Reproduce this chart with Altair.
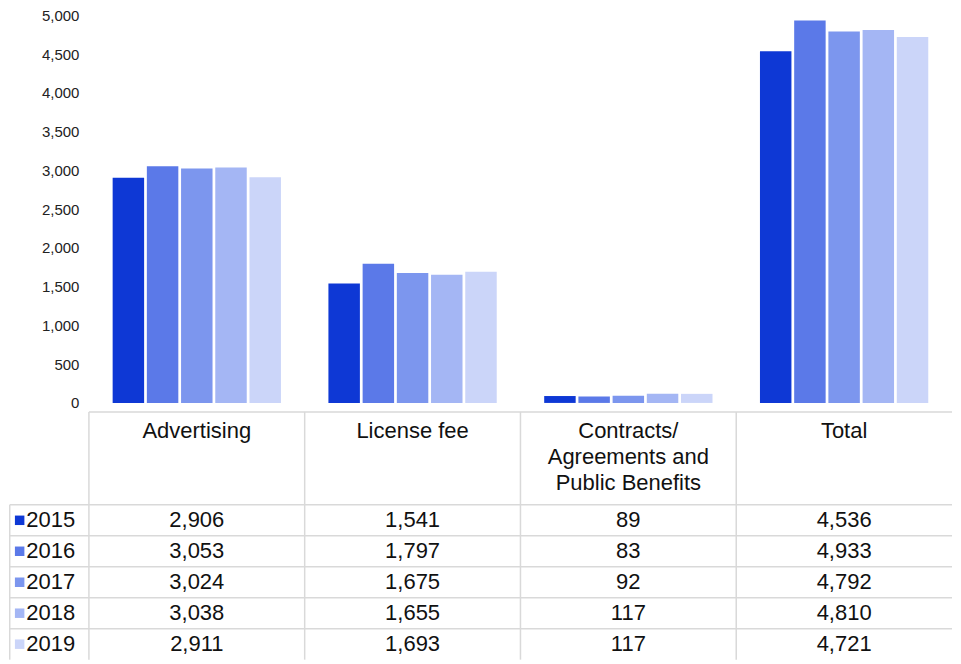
import altair as alt
import pandas as pd

# ---- data ----
cat_keys = ["Advertising", "License fee", "Contracts", "Total"]
cat_labels = ["Advertising", "License fee", "Contracts/\nAgreements and\nPublic Benefits", "Total"]
years = ["2015", "2016", "2017", "2018", "2019"]
advertising = [2906, 3053, 3024, 3038, 2911]
license_fee = [1541, 1797, 1675, 1655, 1693]
contracts = [89, 83, 92, 117, 117]
total = [4536, 4933, 4792, 4810, 4721]
colors = ["#0E38D5", "#5B79E8", "#7C96EE", "#A4B6F4", "#CBD5F9"]
y_ticks = list(range(0, 5001, 500))

series = [advertising, license_fee, contracts, total]

rows = []
for ci, (cat, vals) in enumerate(zip(cat_keys, series)):
    for yi, (yr, v) in enumerate(zip(years, vals)):
        rows.append({"cat": cat, "year": yr, "value": v, "label": f"{v:,}",
                     "col": ci + 0.5, "row": 3 + yi + 0.5})
df = pd.DataFrame(rows)

W = 864
FONT = "Liberation Sans"
GRID = "#d9d9d9"

bars = alt.Chart(df).mark_bar().encode(
    x=alt.X("cat:N", sort=cat_keys, axis=None,
            scale=alt.Scale(paddingInner=0.22, paddingOuter=0.11)),
    xOffset=alt.XOffset("year:N", sort=years, scale=alt.Scale(paddingInner=0.08)),
    y=alt.Y("value:Q", scale=alt.Scale(domain=[0, 5000], nice=False),
            axis=alt.Axis(values=y_ticks, format=",d", title=None, domain=False,
                          ticks=False, grid=False, labelFontSize=15,
                          labelPadding=10, labelColor="#222", labelFont=FONT)),
    color=alt.Color("year:N", sort=years, scale=alt.Scale(domain=years, range=colors), legend=None),
).properties(width=W, height=388)

# ---- table ----
LEFT = -0.367
xs = alt.Scale(domain=[0, 4], nice=False, zero=False)
ys = alt.Scale(domain=[0, 8], nice=False, zero=False, reverse=True)

hl = pd.DataFrame([{"x": 0, "x2": 4, "y": 0}] +
                  [{"x": LEFT, "x2": 4, "y": r} for r in [3, 4, 5, 6, 7]])
vl = pd.DataFrame([{"x": c, "y": 0, "y2": 8} for c in [0, 1, 2, 3]] +
                  [{"x": LEFT, "y": 3, "y2": 8}])
hdr = pd.DataFrame([{"x": i + 0.5, "y": 0.3, "t": t} for i, t in enumerate(cat_labels)])
leg = pd.DataFrame([{"year": yr, "y": 3 + i + 0.5, "xs": -0.321, "xt": -0.29} for i, yr in enumerate(years)])

hrules = alt.Chart(hl).mark_rule(color=GRID, strokeWidth=1.5).encode(
    x=alt.X("x:Q", scale=xs, axis=None), x2="x2:Q",
    y=alt.Y("y:Q", scale=ys, axis=None))
vrules = alt.Chart(vl).mark_rule(color=GRID, strokeWidth=1.5).encode(
    x=alt.X("x:Q", scale=xs, axis=None),
    y=alt.Y("y:Q", scale=ys, axis=None), y2="y2:Q")
header = alt.Chart(hdr).mark_text(fontSize=22, font=FONT, baseline="top", lineBreak="\n",
                                  lineHeight=26, color="#111").encode(
    x=alt.X("x:Q", scale=xs, axis=None), y=alt.Y("y:Q", scale=ys, axis=None), text="t:N")
cells = alt.Chart(df).mark_text(fontSize=22, font=FONT, baseline="middle", color="#111").encode(
    x=alt.X("col:Q", scale=xs, axis=None), y=alt.Y("row:Q", scale=ys, axis=None), text="label:N")
squares = alt.Chart(leg).mark_point(shape="square", filled=True, size=90, opacity=1).encode(
    x=alt.X("xs:Q", scale=xs, axis=None), y=alt.Y("y:Q", scale=ys, axis=None),
    color=alt.Color("year:N", sort=years, scale=alt.Scale(domain=years, range=colors), legend=None))
ylabels = alt.Chart(leg).mark_text(fontSize=22, font=FONT, align="left", baseline="middle", color="#111").encode(
    x=alt.X("xt:Q", scale=xs, axis=None), y=alt.Y("y:Q", scale=ys, axis=None), text="year:N")

table = alt.layer(hrules, vrules, header, cells, squares, ylabels).properties(width=W, height=248)

chart = alt.vconcat(bars, table, spacing=0).resolve_scale(color="shared").properties(
    padding=0).configure_view(stroke=None)

chart.save("out.html", embed_options={"renderer": "svg", "actions": False})
